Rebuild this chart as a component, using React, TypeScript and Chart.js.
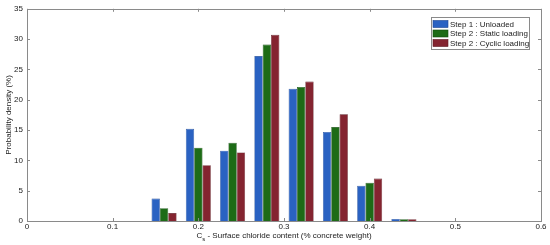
import React, { useEffect, useRef } from "react";
import { Chart, registerables } from "chart.js";

Chart.register(...registerables);

const binCenters = [0.16, 0.2, 0.24, 0.28, 0.32, 0.36, 0.4, 0.44];
const unloaded = [3.7, 15.2, 11.6, 27.2, 21.8, 14.7, 5.8, 0.35];
const staticLoading = [2.1, 12.1, 12.9, 29.1, 22.1, 15.5, 6.3, 0.3];
const cyclicLoading = [1.3, 9.2, 11.3, 30.7, 23.0, 17.6, 7.0, 0.3];
const seriesNames = ["Step 1 : Unloaded", "Step 2 : Static loading", "Step 2 : Cyclic loading"];
const seriesColors = ["#2a62c2", "#1d6b16", "#842430"];
const seriesBorders = ["#1c4590", "#124a0e", "#5a1820"];
const xTicks = [0, 0.1, 0.2, 0.3, 0.4, 0.5, 0.6];
const yTicks = [0, 5, 10, 15, 20, 25, 30, 35];

const FONT = "'Liberation Sans', Arial, sans-serif";

const boxPlugin = {
  id: "matlabBox",
  afterDraw(chart: any) {
    const { ctx, chartArea } = chart;
    const { left, right, top, bottom } = chartArea;
    const xs = chart.scales.x;
    const ys = chart.scales.y;
    ctx.save();
    ctx.strokeStyle = "#8a8a8a";
    ctx.lineWidth = 1;
    ctx.strokeRect(Math.round(left) + 0.5, Math.round(top) + 0.5, Math.round(right - left), Math.round(bottom - top));
    ctx.beginPath();
    const tl = 3;
    xTicks.forEach((v) => {
      const px = Math.round(xs.getPixelForValue(v)) + 0.5;
      ctx.moveTo(px, bottom);
      ctx.lineTo(px, bottom - tl);
      ctx.moveTo(px, top);
      ctx.lineTo(px, top + tl);
    });
    yTicks.forEach((v) => {
      const py = Math.round(ys.getPixelForValue(v)) + 0.5;
      ctx.moveTo(left, py);
      ctx.lineTo(left + tl, py);
      ctx.moveTo(right, py);
      ctx.lineTo(right - tl, py);
    });
    ctx.stroke();

    // x title with subscript
    ctx.fillStyle = "#222";
    ctx.textBaseline = "alphabetic";
    const c = "C";
    const s = "s";
    const rest = " - Surface chloride content (% concrete weight)";
    ctx.font = `8px ${FONT}`;
    const wc = ctx.measureText(c).width;
    ctx.font = `6px ${FONT}`;
    const ws = ctx.measureText(s).width;
    ctx.font = `8px ${FONT}`;
    const wr = ctx.measureText(rest).width;
    const total = wc + ws + wr;
    const cx = (left + right) / 2;
    const x0 = cx - total / 2;
    const by = 238;
    ctx.textAlign = "left";
    ctx.fillText(c, x0, by);
    ctx.font = `6px ${FONT}`;
    ctx.fillText(s, x0 + wc, by + 3);
    ctx.font = `8px ${FONT}`;
    ctx.fillText(rest, x0 + wc + ws, by);

    // legend
    const lx = 431, ly = 17, lw = 98, lh = 32;
    ctx.fillStyle = "#ffffff";
    ctx.fillRect(lx, ly, lw, lh);
    ctx.strokeStyle = "#8a8a8a";
    ctx.lineWidth = 1;
    ctx.strokeRect(lx + 0.5, ly + 0.5, lw, lh);
    ctx.textBaseline = "middle";
    seriesNames.forEach((name, i) => {
      const yy = ly + 7 + i * 9.5;
      ctx.fillStyle = seriesColors[i];
      ctx.fillRect(lx + 2, yy - 3.5, 15, 7);
      ctx.strokeStyle = seriesBorders[i];
      ctx.lineWidth = 0.6;
      ctx.strokeRect(lx + 2, yy - 3.5, 15, 7);
      ctx.fillStyle = "#222";
      ctx.font = `8px ${FONT}`;
      ctx.fillText(name, lx + 19, yy + 0.5);
    });
    ctx.restore();
  },
};

export default function App() {
  const ref = useRef<HTMLCanvasElement | null>(null);
  useEffect(() => {
    if (!ref.current) return;
    const mk = (vals: number[]) => binCenters.map((x, i) => ({ x, y: vals[i] }));
    const chart = new Chart(ref.current, {
      type: "bar",
      data: {
        datasets: [unloaded, staticLoading, cyclicLoading].map((vals, i) => ({
          label: seriesNames[i],
          data: mk(vals),
          backgroundColor: seriesColors[i],
          borderColor: seriesBorders[i],
          borderWidth: 0.6,
          categoryPercentage: 0.73,
          barPercentage: 1.0,
        })),
      },
      options: {
        animation: false,
        responsive: false,
        maintainAspectRatio: false,
        layout: { padding: { top: 7, right: 9, left: 0, bottom: 0 } },
        plugins: { legend: { display: false }, tooltip: { enabled: false } },
        scales: {
          x: {
            type: "linear",
            min: 0,
            max: 0.6,
            offset: false,
            grid: { display: false, drawTicks: false, offset: false },
            border: { display: false },
            afterBuildTicks: (scale: any) => {
              scale.ticks = xTicks.map((v) => ({ value: v }));
            },
            afterFit: (scale: any) => {
              scale.height = 24;
            },
            ticks: {
              padding: 1,
              color: "#222",
              font: { family: FONT, size: 8 },
              callback: (v: any) => String(Number(v)),
            },
          },
          y: {
            min: 0,
            max: 35,
            grid: { display: false, drawTicks: false },
            border: { display: false },
            afterBuildTicks: (scale: any) => {
              scale.ticks = yTicks.map((v) => ({ value: v }));
            },
            afterFit: (scale: any) => {
              scale.width = 27;
            },
            ticks: {
              padding: 4,
              color: "#222",
              font: { family: FONT, size: 8 },
            },
            title: {
              display: true,
              text: "Probability density (%)",
              color: "#222",
              font: { family: FONT, size: 8 },
              padding: { top: 4, bottom: 0 },
            },
          },
        },
      },
      plugins: [boxPlugin],
    } as any);
    return () => chart.destroy();
  }, []);
  return (
    <div style={{ position: "absolute", left: 0, top: 0, width: 550, height: 245, background: "#fff" }}>
      <canvas ref={ref} width={550} height={245} style={{ display: "block", width: 550, height: 245 }} />
    </div>
  );
}
